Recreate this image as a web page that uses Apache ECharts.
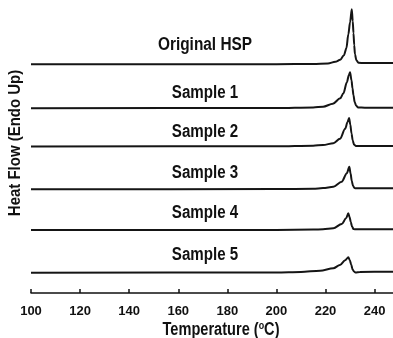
<!DOCTYPE html>
<html><head><meta charset="utf-8">
<script src="https://cdn.jsdelivr.net/npm/echarts@6/dist/echarts.min.js"></script>
<style>html,body{margin:0;padding:0;background:#fff}#c{width:393px;height:338px}</style>
</head><body><div id="c"></div>
<script>
// Temperature (°C) and heat flow (arbitrary units, endo up)
const sampleNames = ['Original HSP', 'Sample 1', 'Sample 2', 'Sample 3', 'Sample 4', 'Sample 5'];
const tOriginal = [100, 200, 215, 221, 224, 226, 227.5, 228.5, 229.3, 230, 230.7, 231.1, 231.4, 231.7, 232, 232.6, 233.4, 236, 247.5];
const hOriginal = [0, 0.1, 0.4, 0.8, 2.5, 4.5, 9, 16, 30, 42, 55, 43, 31, 19, 10, 4, 1.5, 1.2, 1.2];
const tSample1 = [100, 200, 215, 219, 223, 226, 227.3, 228.7, 229.5, 230, 230.6, 231, 231.4, 231.9, 232.5, 233.3, 236, 247.5];
const hSample1 = [0, 0.3, 0.9, 1.6, 4.5, 10, 15, 26, 33, 36, 28, 20, 13, 6, 2.5, 0.8, 0.6, 0.6];
const tSample2 = [100, 200, 215, 219, 223.2, 225.9, 228, 229, 229.6, 230.1, 230.6, 231.1, 231.6, 232.3, 247.5];
const hSample2 = [0, 0.2, 0.8, 1.5, 3.3, 7.7, 17.7, 24.5, 28.5, 22, 13, 6, 2, 0.6, 0.5];
const tSample3 = [100, 200, 215, 219, 223.2, 226.6, 228.7, 229.7, 230.2, 230.7, 231.2, 231.8, 232.5, 247.5];
const hSample3 = [0, 0.2, 0.6, 1.2, 2.6, 7.6, 16, 22.6, 16, 8.5, 3.5, 1.2, 1, 1];
const tSample4 = [100, 200, 215, 219, 223.2, 226.6, 228.4, 229.3, 229.8, 230.3, 230.8, 231.4, 232, 247.5];
const hSample4 = [0, 0.1, 0.4, 0.8, 1.7, 6, 11.7, 16.7, 13, 8, 3.5, 1, 0.7, 0.7];
const tSample5 = [100, 200, 210, 217.8, 223.2, 225.9, 228, 229.3, 229.9, 230.5, 231, 231.6, 232.2, 234, 247.5];
const hSample5 = [0, 0.3, 0.8, 2, 4.4, 7.7, 12.5, 15.4, 12.5, 8, 3.5, 1.2, 0.3, 0.8, 1];
const curveOffsets = [228.7, 184.7, 146.5, 103.7, 63, 20.3];
const xTicks = [100, 120, 140, 160, 180, 200, 220, 240];

const temps = [tOriginal, tSample1, tSample2, tSample3, tSample4, tSample5];
const flows = [hOriginal, hSample1, hSample2, hSample3, hSample4, hSample5];

const FONT = "'Liberation Sans', Arial, sans-serif";
const chart = echarts.init(document.getElementById('c'), null, {renderer: 'canvas'});

const series = sampleNames.map((name, i) => ({
  name: name,
  type: 'line',
  data: temps[i].map((t, k) => [t, flows[i][k] + curveOffsets[i]]),
  showSymbol: false,
  smooth: 0.3,
  smoothMonotone: 'x',
  lineStyle: {color: '#151515', width: 2},
  silent: true,
  z: 3
}));

const labelY = [45, 93, 132, 173, 213, 255];
const graphics = sampleNames.map((name, i) => ({
  type: 'text',
  x: 205, y: labelY[i], scaleX: i === 0 ? 0.855 : 0.84,
  style: {text: name, font: 'bold 18px ' + FONT, fill: '#111', textAlign: 'center', textVerticalAlign: 'middle'}
}));
graphics.push({
  type: 'text', x: 221, y: 330, scaleX: 0.81,
  style: {
    text: '{a|Temperature (}{s|o}{a|C)}',
    textAlign: 'center', textVerticalAlign: 'middle',
    rich: {
      a: {fontFamily: FONT, fontWeight: 'bold', fontSize: 18, fill: '#111', verticalAlign: 'bottom', lineHeight: 19},
      s: {fontFamily: FONT, fontWeight: 'bold', fontSize: 11, fill: '#111', verticalAlign: 'top', lineHeight: 19, padding: [0,0,8,0]}
    }
  }
});
graphics.push({
  type: 'text', x: 15, y: 143, rotation: Math.PI / 2, scaleX: 0.88,
  style: {text: 'Heat Flow (Endo Up)', font: 'bold 17px ' + FONT, fill: '#111', textAlign: 'center', textVerticalAlign: 'middle'}
});

chart.setOption({
  animation: false,
  backgroundColor: '#fff',
  grid: {left: 31, right: 0, top: 5, bottom: 45, containLabel: false},
  xAxis: {
    type: 'value', min: 100, max: 247.5, interval: 20,
    axisLine: {show: true, lineStyle: {color: '#111', width: 1.5}},
    axisTick: {show: true, inside: true, length: 4, lineStyle: {color: '#111', width: 1.5}},
    splitLine: {show: false},
    axisLabel: {
      margin: 12, color: '#111', fontFamily: FONT, fontWeight: 'bold', fontSize: 13,
      showMaxLabel: false,
      formatter: v => xTicks.indexOf(v) >= 0 ? String(v) : ''
    }
  },
  yAxis: {
    type: 'value', min: 0, max: 288, show: false
  },
  graphic: graphics,
  series: series
});
</script>
</body></html>
